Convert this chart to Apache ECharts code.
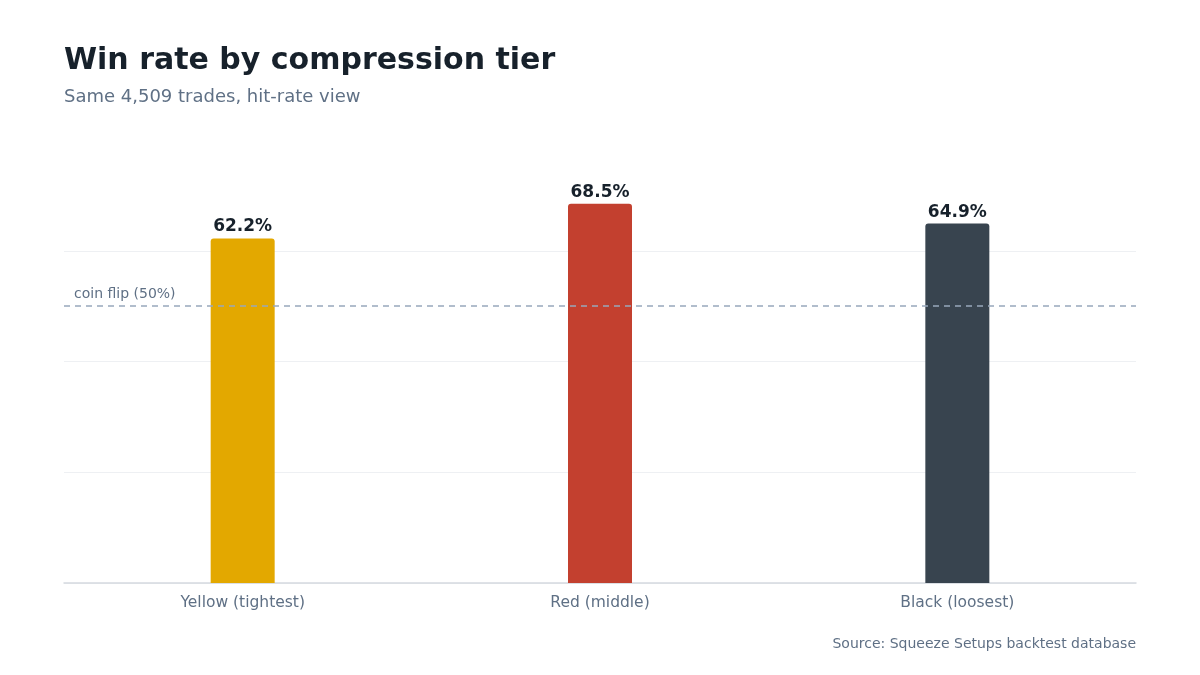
<!DOCTYPE html>
<html>
<head>
<meta charset="utf-8">
<script src="https://cdn.jsdelivr.net/npm/echarts@6/dist/echarts.min.js"></script>
<style>
  html, body { margin: 0; padding: 0; background: #fff; }
  #main { width: 1200px; height: 675px; }
</style>
</head>
<body>
<div id="main"></div>
<script>
var categories = ['Yellow (tightest)', 'Red (middle)', 'Black (loosest)'];
var winRates = [62.2, 68.5, 64.9];
var barColors = ['#E3A800', '#C3402F', '#38444F'];
var coinFlip = 50;

var font = 'DejaVu Sans';
var myChart = echarts.init(document.getElementById('main'));

var option = {
    backgroundColor: '#ffffff',
    textStyle: { fontFamily: font },
    title: [
        {
            text: 'Win rate by compression tier',
            left: 64,
            top: 46,
            padding: 0,
            textStyle: { fontSize: 30, fontWeight: 'bold', color: '#17212b', fontFamily: font }
        },
        {
            text: 'Same 4,509 trades, hit-rate view',
            left: 64,
            top: 88,
            padding: 0,
            textStyle: { fontSize: 18, fontWeight: 'normal', color: '#5f7085', fontFamily: font }
        },
        {
            text: 'Source: Squeeze Setups backtest database',
            right: 64,
            top: 637,
            padding: 0,
            textStyle: { fontSize: 14, fontWeight: 'normal', color: '#5f7085', fontFamily: font }
        }
    ],
    grid: {
        left: 64,
        right: 64,
        top: 140,
        bottom: 92,
        containLabel: false
    },
    xAxis: {
        type: 'category',
        data: categories,
        axisTick: { show: false },
        axisLine: { lineStyle: { color: '#d5d9df', width: 1.5 } },
        axisLabel: { color: '#5f7085', fontSize: 15.5, margin: 12, fontFamily: font }
    },
    yAxis: {
        type: 'value',
        min: 0,
        max: 80,
        interval: 20,
        axisLabel: { show: false },
        axisLine: { show: false },
        axisTick: { show: false },
        splitLine: {
            lineStyle: {
                color: ['#eef0f3', '#eef0f3', '#eef0f3', '#eef0f3', 'rgba(0,0,0,0)'],
                width: 1
            }
        }
    },
    series: [
        {
            type: 'bar',
            barWidth: 64,
            data: winRates.map(function (v, i) {
                return { value: v, itemStyle: { color: barColors[i] } };
            }),
            itemStyle: { borderRadius: [3, 3, 0, 0] },
            label: {
                show: true,
                position: 'top',
                distance: 3,
                formatter: function (p) { return p.value.toFixed(1) + '%'; },
                fontSize: 17,
                fontWeight: 'bold',
                color: '#17212b',
                fontFamily: font
            },
            markLine: {
                silent: true,
                symbol: 'none',
                lineStyle: { type: [6, 5], color: '#98a8bc', width: 1.5 },
                label: {
                    position: 'insideStartTop',
                    formatter: 'coin flip (50%)',
                    color: '#5f7085',
                    fontSize: 14,
                    fontFamily: font,
                    distance: [10, 5]
                },
                data: [{ yAxis: coinFlip }]
            }
        }
    ]
};

myChart.setOption(option);
</script>
</body>
</html>
